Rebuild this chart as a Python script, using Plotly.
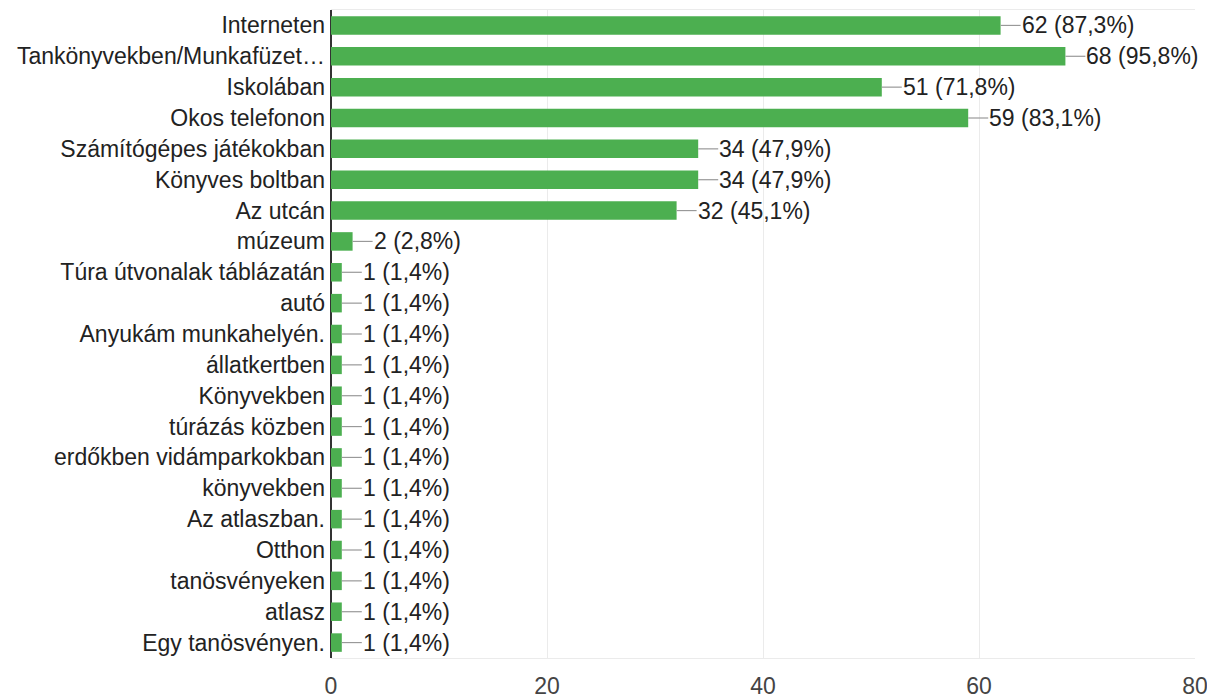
import plotly.graph_objects as go

categories = ["Interneten", "Tankönyvekben/Munkafüzet…", "Iskolában", "Okos telefonon",
              "Számítógépes játékokban", "Könyves boltban", "Az utcán", "múzeum",
              "Túra útvonalak táblázatán", "autó", "Anyukám munkahelyén.", "állatkertben",
              "Könyvekben", "túrázás közben", "erdőkben vidámparkokban", "könyvekben",
              "Az atlaszban.", "Otthon", "tanösvényeken", "atlasz", "Egy tanösvényen."]
counts = [62, 68, 51, 59, 34, 34, 32, 2, 1, 1, 1, 1, 1, 1, 1, 1, 1, 1, 1, 1, 1]
percents = ["87,3%", "95,8%", "71,8%", "83,1%", "47,9%", "47,9%", "45,1%", "2,8%",
            "1,4%", "1,4%", "1,4%", "1,4%", "1,4%", "1,4%", "1,4%", "1,4%",
            "1,4%", "1,4%", "1,4%", "1,4%", "1,4%"]
x_ticks = [0, 20, 40, 60, 80]

FONT = "Liberation Sans, Arial, sans-serif"
TXT = "#222222"
FS = 23

fig = go.Figure(go.Bar(
    x=counts, y=categories, orientation="h",
    marker=dict(color="#4caf50", line=dict(width=0)),
    width=0.6, hoverinfo="skip",
))

shapes = []
annotations = []
for c, cat, p in zip(counts, categories, percents):
    shapes.append(dict(type="line", xref="x", yref="y", xsizemode="pixel", xanchor=c,
                       x0=0, x1=20, y0=cat, y1=cat,
                       line=dict(color="#999999", width=1.2)))
    annotations.append(dict(x=c, y=cat, xref="x", yref="y", text=f"{c} ({p})",
                            showarrow=False, xanchor="left", yanchor="middle",
                            xshift=19, font=dict(family=FONT, size=FS, color=TXT)))

fig.update_layout(
    width=1199, height=692,
    margin=dict(l=323, r=12, t=2, b=42),
    paper_bgcolor="white", plot_bgcolor="white",
    showlegend=False, bargap=0.4,
    shapes=shapes, annotations=annotations,
    font=dict(family=FONT, size=FS, color=TXT),
)
fig.update_xaxes(range=[0, 80], tickvals=x_ticks, ticktext=[str(t) for t in x_ticks],
                 automargin=False, ticklabeloverflow="allow",
                 showgrid=True, gridcolor="#ebebeb", gridwidth=1,
                 showline=True, linecolor="#ebebeb", linewidth=1, mirror=True,
                 zeroline=True, zerolinecolor="#333333", zerolinewidth=1.5,
                 ticks="", ticklabelstandoff=7,
                 tickfont=dict(family=FONT, size=FS, color="#444444"))
fig.update_yaxes(autorange="reversed", showgrid=False, ticks="", automargin=False,
                 showline=False, ticklabelstandoff=5,
                 tickfont=dict(family=FONT, size=FS, color=TXT))

fig.write_html("out.html")
